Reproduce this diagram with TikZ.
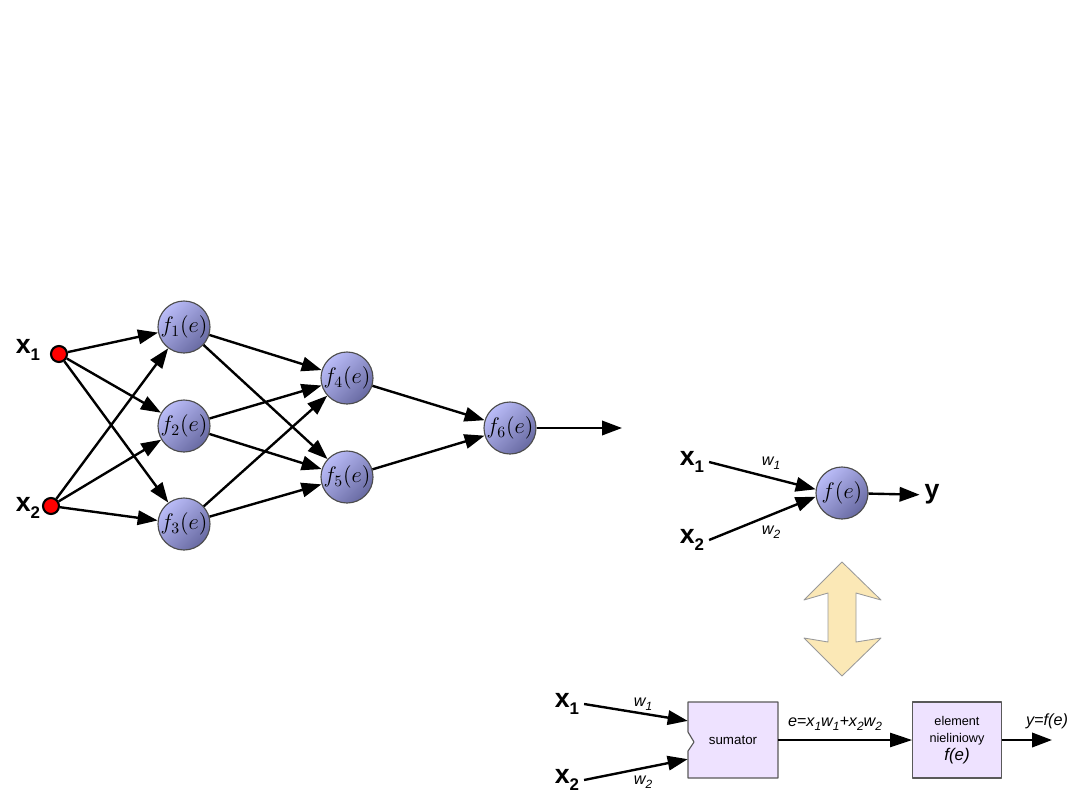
\RequirePackage{fix-cm}
\documentclass[tikz,border=0pt]{standalone}
\usepackage{fontspec}
\setsansfont{Liberation Sans}
\usetikzlibrary{arrows.meta,calc}

\definecolor{neuronlight}{RGB}{186,188,248}
\definecolor{neurondark}{RGB}{104,106,162}
\definecolor{boxfill}{RGB}{238,226,255}
\definecolor{swaplight}{RGB}{255,250,232}
\definecolor{swapdark}{RGB}{251,232,182}

\newcommand{\inlabel}[2]{\sffamily\bfseries\fontsize{19}{20}\selectfont #1\raisebox{-5pt}{\fontsize{12}{12}\selectfont #2}}
\newcommand{\wlabel}[1]{\sffamily\itshape\fontsize{11.5}{12}\selectfont w\raisebox{-3pt}{\fontsize{8.5}{8.5}\selectfont #1}}

\tikzset{
  neuron/.style={circle, draw=black!70, line width=0.8pt, minimum size=1.3cm, inner sep=0pt,
    top color=neuronlight, bottom color=neurondark, shading angle=45,
    font=\fontsize{16}{18}\selectfont},
  inputdot/.style={circle, draw=black, line width=1.5pt, fill=red, minimum size=0.4cm, inner sep=0pt},
  edge/.style={line width=1.7pt, -{Triangle[length=0.5cm,width=0.36cm]}},
  block/.style={minimum width=2.25cm, minimum height=1.9cm, inner sep=0pt, align=center},
  blockline/.style={draw=black!65, line width=0.8pt, fill=boxfill}
}

\begin{document}
\begin{tikzpicture}[x=0.025cm, y=-0.025cm, line join=round]
\useasboundingbox (0,0) rectangle (1080,810);

% network
\node[inputdot] (in1) at (59,354) {};
\node[inputdot] (in2) at (51,506) {};
\node (lx1) at (28,350) {\inlabel{x}{1}};
\node (lx2) at (28,508) {\inlabel{x}{2}};

\node[neuron] (f1) at (184,327) {$f_1(e)$};
\node[neuron] (f2) at (184,426) {$f_2(e)$};
\node[neuron] (f3) at (184,524) {$f_3(e)$};
\node[neuron] (f4) at (347,378) {$f_4(e)$};
\node[neuron] (f5) at (347,477) {$f_5(e)$};
\node[neuron] (f6) at (510,428) {$f_6(e)$};
\coordinate (out) at (622,428);

\foreach \a in {in1,in2}
  \foreach \b in {f1,f2,f3}
    \draw[edge] (\a) -- (\b);
\foreach \a in {f1,f2,f3}
  \foreach \b in {f4,f5}
    \draw[edge] (\a) -- (\b);
\foreach \a in {f4,f5}
  \draw[edge] (\a) -- (f6);
\draw[edge] (f6) -- (out);

% single neuron
\node[neuron] (fe) at (842,493) {$f(e)$};
\node (rx1) at (692,462) {\inlabel{x}{1}};
\node (rx2) at (692,540) {\inlabel{x}{2}};
\node (ry) at (932,495) {\inlabel{y}{}};
\node (rw1) at (771,463) {\wlabel{1}};
\node (rw2) at (771,532) {\wlabel{2}};
\draw[edge] (rx1.east) -- (fe.172);
\draw[edge] (rx2.east) -- (fe.188);
\draw[edge] (fe) -- (ry);

% double arrow
\draw[draw=black!40, line width=0.6pt, shading=axis, left color=swapdark, middle color=swaplight, right color=swapdark]
  (842,562) -- (881,600) -- (856,593) -- (856,642) -- (881,638) -- (842,676)
  -- (804,638) -- (828,642) -- (828,593) -- (804,600) -- cycle;

% block diagram
\draw[blockline] (688,702) -- (778,702) -- (778,778) -- (688,778) -- (688,751)
  -- (694,742) -- (688,732) -- cycle;
\node[block, font=\sffamily\fontsize{9.5}{11}\selectfont] (sum) at (733,740) {sumator};
\node[block, blockline, minimum width=2.22cm, font=\sffamily\fontsize{9}{12.5}\selectfont] (elem) at (957,740)
  {element\\nieliniowy\\{\fontsize{12}{12}\selectfont\itshape f(e)}};
\coordinate (yout) at (1052,740);

\node (bx1) at (567,704) {\inlabel{x}{1}};
\node (bx2) at (567,780) {\inlabel{x}{2}};
\node (bw1) at (643,704) {\wlabel{1}};
\node (bw2) at (643,782) {\wlabel{2}};
\node[font=\sffamily\itshape\fontsize{11.5}{12}\selectfont] (esum) at (835,724)
  {e=x\raisebox{-3pt}{\fontsize{8.5}{8.5}\selectfont 1}w\raisebox{-3pt}{\fontsize{8.5}{8.5}\selectfont 1}+x\raisebox{-3pt}{\fontsize{8.5}{8.5}\selectfont 2}w\raisebox{-3pt}{\fontsize{8.5}{8.5}\selectfont 2}};
\node[font=\sffamily\itshape\fontsize{11.5}{12}\selectfont] (yfe) at (1047,721) {y=f(e)};

\draw[edge] (bx1.east) -- ($(sum.north west)!0.25!(sum.south west)$);
\draw[edge] (bx2.east) -- ($(sum.north west)!0.75!(sum.south west)$);
\draw[line width=0.8pt, -{Triangle[length=0.55cm,width=0.36cm]}] (sum) -- (elem);
\draw[line width=1.8pt, -{Triangle[length=0.5cm,width=0.36cm]}] (elem) -- (yout);
\end{tikzpicture}
\end{document}
